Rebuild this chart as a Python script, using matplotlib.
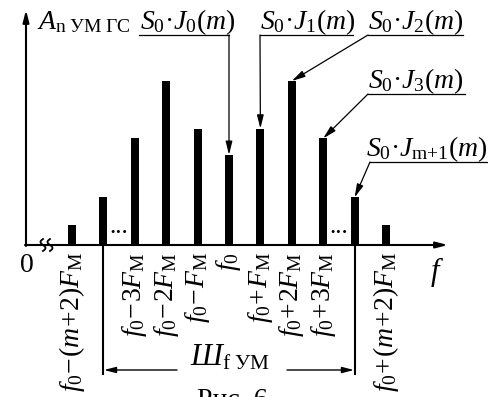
import matplotlib
matplotlib.use("Agg")
import matplotlib.pyplot as plt
import numpy as np

# ---- data ----
harm_index = [-5, -4, -3, -2, -1, 0, 1, 2, 3, 4, 5]
amplitudes = [0.12, 0.29, 0.65, 1.00, 0.71, 0.55, 0.71, 1.00, 0.65, 0.29, 0.12]
tick_idx = [-5, -3, -2, -1, 0, 1, 2, 3, 5]
tick_labels = [r"$f_0\!-\!(m\!+\!2)F_\mathrm{М}$", r"$f_0\!-\!3F_\mathrm{М}$",
               r"$f_0\!-\!2F_\mathrm{М}$", r"$f_0\!-\!F_\mathrm{М}$", r"$f_0$",
               r"$f_0\!+\!F_\mathrm{М}$", r"$f_0\!+\!2F_\mathrm{М}$",
               r"$f_0\!+\!3F_\mathrm{М}$", r"$f_0\!+\!(m\!+\!2)F_\mathrm{М}$"]
ann_labels = [r"$S_0{·}J_0(m)$", r"$S_0{·}J_1(m)$", r"$S_0{·}J_2(m)$",
              r"$S_0{·}J_3(m)$", r"$S_0{·}J_{\mathrm{m{+}1}}(m)$"]
ann_idx = [0, 1, 2, 3, 4]

plt.rcParams['mathtext.fontset'] = 'custom'
plt.rcParams['mathtext.rm'] = 'Liberation Serif'
plt.rcParams['mathtext.it'] = 'Liberation Serif:italic'
plt.rcParams['mathtext.bf'] = 'Liberation Serif:bold'
plt.rcParams['font.family'] = ['Liberation Serif', 'DejaVu Serif']

W, H = 488, 397
fig = plt.figure(figsize=(W / 100, H / 100), dpi=100)
ax = fig.add_axes([0, 0, 1, 1])
ax.axis('off')

# layout (pixel geometry of the reference)
X0, DX, BASE, UNIT = 229.0, 31.4, 245.0, 164.0
ax.set_xlim((0 - X0) / DX, (W - X0) / DX)
ax.set_ylim((BASE - H) / UNIT, BASE / UNIT)

def px(x, y):
    return (x - X0) / DX, (BASE - y) / UNIT

lw_ax = 1.5
# bars
ax.bar(harm_index, amplitudes, width=0.25, color='black', linewidth=0)

# axes arrows
ax.annotate('', xy=px(26, 10), xytext=px(26, 246),
            arrowprops=dict(arrowstyle='-|>,head_length=0.7,head_width=0.18',
                            color='black', lw=lw_ax, shrinkA=0, shrinkB=0))
ax.annotate('', xy=px(448, 245), xytext=px(25, 245),
            arrowprops=dict(arrowstyle='-|>,head_length=0.7,head_width=0.18',
                            color='black', lw=lw_ax, shrinkA=0, shrinkB=0))

# axis break squiggles
t = np.linspace(-1, 1, 40)
for xc in (43, 50):
    xs = xc + 2.5 * np.sin(t * np.pi)
    ys = 245 + 6 * t
    pts = np.array([px(a, b) for a, b in zip(xs, ys)])
    ax.plot(pts[:, 0], pts[:, 1], color='black', lw=1.3)

# dots
for xc in (119, 339):
    ax.text(*px(xc, 233), "...", ha='center', va='baseline', fontsize=18)

# labels
ax.text(*px(27, 266), "0", ha='center', va='center', fontsize=20)
ax.text(*px(437, 272), r"$f$", ha='center', va='center', fontsize=22)
ax.text(*px(37, 29), r"$A_{\mathrm{n\ УМ\ ГС}}$", ha='left', va='baseline', fontsize=20)

# tick labels
for k, lab in zip(tick_idx, tick_labels):
    x, y = px(0, 252)
    ax.text(k, y, lab, rotation=90, ha='center', va='top', fontsize=20)

# bandwidth markers
for xb in (103, 355):
    ax.plot(*zip(px(xb, 245), px(xb, 374)), color='black', lw=lw_ax)
ax.annotate('', xy=px(104, 370), xytext=px(177, 370),
            arrowprops=dict(arrowstyle='-|>,head_length=0.7,head_width=0.18',
                            color='black', lw=1.0, shrinkA=0, shrinkB=0))
ax.annotate('', xy=px(354, 370), xytext=px(287, 370),
            arrowprops=dict(arrowstyle='-|>,head_length=0.7,head_width=0.18',
                            color='black', lw=1.0, shrinkA=0, shrinkB=0))
ax.text(*px(230, 366), r"$Ш_{\mathrm{f\ УМ}}$", ha='center', va='baseline', fontsize=22)
ax.text(*px(232, 388), "Рис. 6", ha='center', va='top', fontsize=20)

# annotations: (text x, baseline y, underline y, line x0, line x1)
ann_geom = [(140, 29, 35, 139, 229), (260, 29, 35, 260, 353),
            (368, 29, 35, 368, 463), (368, 88, 94, 368, 465),
            (366, 156, 162, 370, 488)]
for lab, i, (tx, ty, uy, lx0, lx1) in zip(ann_labels, ann_idx, ann_geom):
    ax.text(*px(tx, ty), lab, ha='left', va='baseline', fontsize=20)
    k = harm_index[5 + i]
    amp = amplitudes[5 + i]
    ax.plot(*zip(px(lx0, uy), px(lx1, uy)), color='black', lw=0.9)
    start = px(lx1, uy) if i == 0 else px(lx0, uy)
    ax.annotate('', xy=(k, amp), xytext=start,
                arrowprops=dict(arrowstyle='-|>,head_length=0.8,head_width=0.2',
                                color='black', lw=0.9, shrinkA=0, shrinkB=0))

fig.savefig("out.png", dpi=100)
